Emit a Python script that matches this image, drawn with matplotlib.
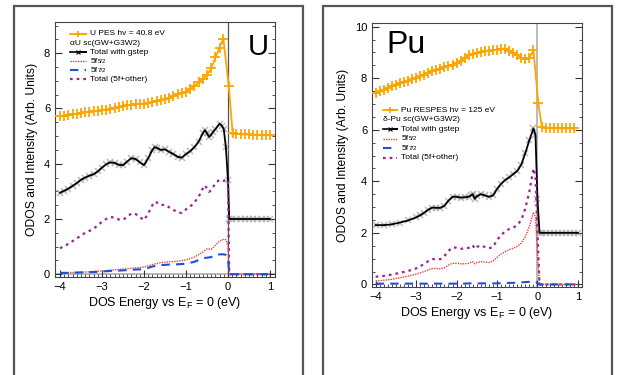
import matplotlib
matplotlib.use("Agg")
import matplotlib.pyplot as plt
from matplotlib.lines import Line2D
from matplotlib.patches import Rectangle

plt.rcParams['font.family'] = ['Liberation Sans', 'DejaVu Sans']
plt.rcParams['mathtext.fontset'] = 'custom'
plt.rcParams['mathtext.rm'] = 'Liberation Sans'

# ---------------- U panel data ----------------
u_pes_e = [-4.0, -3.9, -3.8, -3.7, -3.6, -3.5, -3.4, -3.3, -3.2, -3.1, -3.0, -2.9, -2.8, -2.7,
           -2.6, -2.5, -2.4, -2.3, -2.2, -2.1, -2.0, -1.9, -1.8, -1.7, -1.6, -1.5, -1.4, -1.3,
           -1.2, -1.1, -1.0, -0.9, -0.8, -0.7, -0.6, -0.5, -0.4, -0.3, -0.2, -0.11, 0.02, 0.11,
           0.2, 0.3, 0.4, 0.5, 0.6, 0.7, 0.8, 0.9, 1.0]
u_pes = [5.72, 5.74, 5.76, 5.79, 5.81, 5.84, 5.86, 5.88, 5.90, 5.92, 5.94, 5.96, 5.99, 6.02,
         6.05, 6.08, 6.11, 6.14, 6.16, 6.17, 6.18, 6.20, 6.23, 6.27, 6.30, 6.34, 6.39, 6.45,
         6.51, 6.56, 6.60, 6.70, 6.80, 6.95, 7.08, 7.22, 7.45, 7.85, 8.20, 8.53, 6.80, 5.12,
         5.08, 5.07, 5.06, 5.06, 5.05, 5.05, 5.05, 5.05, 5.05]

u_tot_e = [-4.0, -3.9, -3.8, -3.7, -3.6, -3.5, -3.4, -3.3, -3.2, -3.1, -3.0, -2.9, -2.8, -2.7,
           -2.6, -2.5, -2.4, -2.3, -2.2, -2.1, -2.0, -1.9, -1.8, -1.75, -1.7, -1.6, -1.5, -1.4,
           -1.3, -1.2, -1.1, -1.0, -0.9, -0.8, -0.7, -0.6, -0.55, -0.5, -0.45, -0.4, -0.35, -0.3,
           -0.2, -0.15, -0.1, -0.05, 0.0, 0.03, 0.1, 0.2, 0.3, 0.4, 0.5, 0.6, 0.7, 0.8, 0.9, 1.0]
u_total_gstep = [2.95, 3.02, 3.10, 3.20, 3.30, 3.42, 3.50, 3.57, 3.62, 3.72, 3.86, 3.98, 4.05, 4.03,
                 3.96, 3.95, 4.08, 4.20, 4.17, 4.05, 3.95, 4.20, 4.50, 4.60, 4.58, 4.50, 4.52, 4.43,
                 4.35, 4.25, 4.22, 4.35, 4.45, 4.60, 4.80, 5.10, 5.22, 5.10, 4.97, 5.05, 5.16, 5.25,
                 5.45, 5.38, 5.25, 4.60, 3.40, 2.00, 2.00, 2.00, 2.00, 2.00, 2.00, 2.00, 2.00, 2.00,
                 2.00, 2.00]
u_total_5f = [0.94, 1.02, 1.10, 1.20, 1.30, 1.40, 1.50, 1.57, 1.65, 1.77, 1.90, 2.00, 2.07, 2.05,
              1.98, 1.97, 2.08, 2.20, 2.18, 2.07, 1.96, 2.20, 2.50, 2.62, 2.60, 2.50, 2.52, 2.42,
              2.33, 2.24, 2.22, 2.35, 2.45, 2.60, 2.80, 3.10, 3.22, 3.10, 2.98, 3.05, 3.16, 3.30,
              3.42, 3.40, 3.38, 3.42, 3.40, 0.00, 0.00, 0.00, 0.00, 0.00, 0.00, 0.00, 0.00, 0.00,
              0.00, 0.00]

u_f_e = [-4.0, -3.8, -3.6, -3.4, -3.2, -3.0, -2.8, -2.6, -2.4, -2.2, -2.0, -1.8, -1.6, -1.4,
         -1.2, -1.0, -0.8, -0.6, -0.5, -0.4, -0.3, -0.2, -0.1, -0.05, 0.0, 0.03, 0.2, 0.4, 0.6,
         0.8, 1.0]
u_5f52 = [0.05, 0.06, 0.07, 0.08, 0.10, 0.12, 0.15, 0.17, 0.20, 0.23, 0.26, 0.35, 0.42, 0.45,
          0.47, 0.52, 0.62, 0.80, 0.92, 0.90, 1.05, 1.20, 1.27, 1.25, 1.00, 0.00, 0.00, 0.00, 0.00,
          0.00, 0.00]
u_5f72 = [0.05, 0.05, 0.06, 0.07, 0.08, 0.10, 0.12, 0.13, 0.15, 0.17, 0.18, 0.28, 0.33, 0.35,
          0.36, 0.38, 0.45, 0.58, 0.60, 0.62, 0.70, 0.72, 0.72, 0.70, 0.60, 0.00, 0.00, 0.00, 0.00,
          0.00, 0.00]

# ---------------- Pu panel data ----------------
pu_pes_e = [-4.0, -3.9, -3.8, -3.7, -3.6, -3.5, -3.4, -3.3, -3.2, -3.1, -3.0, -2.9, -2.8, -2.7,
            -2.6, -2.5, -2.4, -2.3, -2.2, -2.1, -2.0, -1.9, -1.8, -1.7, -1.6, -1.5, -1.4, -1.3,
            -1.2, -1.1, -1.0, -0.9, -0.8, -0.7, -0.6, -0.5, -0.4, -0.3, -0.2, -0.1, 0.02, 0.11,
            0.2, 0.3, 0.4, 0.5, 0.6, 0.7, 0.8, 0.9]
pu_pes = [7.44, 7.50, 7.56, 7.62, 7.68, 7.74, 7.80, 7.85, 7.90, 7.95, 8.00, 8.07, 8.13, 8.20,
          8.26, 8.32, 8.37, 8.42, 8.48, 8.53, 8.58, 8.68, 8.78, 8.88, 8.95, 8.99, 9.03, 9.06,
          9.07, 9.08, 9.09, 9.15, 9.12, 9.05, 8.98, 8.90, 8.80, 8.73, 8.78, 9.10, 7.02, 6.10,
          6.08, 6.07, 6.06, 6.06, 6.05, 6.05, 6.05, 6.05]

pu_e = [-4.0, -3.8, -3.6, -3.4, -3.2, -3.0, -2.9, -2.8, -2.7, -2.6, -2.5, -2.4, -2.3, -2.2,
        -2.1, -2.0, -1.9, -1.8, -1.7, -1.65, -1.6, -1.55, -1.5, -1.4, -1.3, -1.2, -1.1, -1.0,
        -0.9, -0.8, -0.7, -0.6, -0.5, -0.4, -0.3, -0.2, -0.1, -0.05, 0.0, 0.05, 0.1, 0.2, 0.3,
        0.4, 0.5, 0.6, 0.7, 0.8, 0.9, 1.0]
pu_total_gstep = [2.30, 2.30, 2.33, 2.40, 2.48, 2.60, 2.68, 2.78, 2.90, 2.98, 2.97, 2.97, 3.05, 3.25,
                  3.40, 3.40, 3.37, 3.38, 3.40, 3.45, 3.50, 3.32, 3.42, 3.50, 3.45, 3.40, 3.45, 3.70,
                  3.90, 4.05, 4.15, 4.28, 4.40, 4.65, 5.10, 5.60, 6.05, 5.80, 3.30, 2.00, 2.00, 2.00,
                  2.00, 2.00, 2.00, 2.00, 2.00, 2.00, 2.00, 2.00]
pu_total_5f = [0.30, 0.33, 0.38, 0.45, 0.52, 0.62, 0.70, 0.80, 0.90, 0.98, 0.98, 0.98, 1.10, 1.30,
               1.44, 1.42, 1.38, 1.40, 1.42, 1.45, 1.52, 1.38, 1.45, 1.52, 1.45, 1.40, 1.45, 1.72,
               1.92, 2.05, 2.15, 2.20, 2.30, 2.50, 2.95, 3.60, 4.50, 4.20, 2.00, 0.00, 0.00, 0.00,
               0.00, 0.00, 0.00, 0.00, 0.00, 0.00, 0.00, 0.00]
pu_5f52 = [0.13, 0.16, 0.20, 0.26, 0.32, 0.40, 0.45, 0.50, 0.56, 0.62, 0.62, 0.60, 0.65, 0.75,
           0.82, 0.82, 0.80, 0.80, 0.82, 0.85, 0.88, 0.80, 0.85, 0.88, 0.87, 0.85, 0.90, 1.05,
           1.18, 1.27, 1.35, 1.40, 1.48, 1.60, 1.85, 2.25, 2.80, 2.60, 1.20, 0.00, 0.00, 0.00,
           0.00, 0.00, 0.00, 0.00, 0.00, 0.00, 0.00, 0.00]
pu_5f72 = [0.03, 0.03, 0.03, 0.03, 0.03, 0.03, 0.03, 0.03, 0.03, 0.03, 0.03, 0.03, 0.03, 0.03,
           0.03, 0.03, 0.03, 0.03, 0.04, 0.04, 0.04, 0.04, 0.04, 0.04, 0.04, 0.04, 0.04, 0.04,
           0.05, 0.05, 0.06, 0.06, 0.07, 0.08, 0.09, 0.10, 0.12, 0.10, 0.05, 0.00, 0.00, 0.00,
           0.00, 0.00, 0.00, 0.00, 0.00, 0.00, 0.00, 0.00]

xticks = [-4, -3, -2, -1, 0, 1]
u_yticks = [0, 2, 4, 6, 8]
pu_yticks = [0, 2, 4, 6, 8, 10]

ORANGE = '#FFA500'
RED = '#E8433A'
BLUE = '#1F4FD8'
PURPLE = '#9B2393'

# (main text, small trailing subscript text)
u_labels = [("U PES hv = 40.8 eV", ""), ("αU sc(GW+G3W2)", ""), ("Total with gstep", ""),
            ("5f", "5/2"), ("5f", "7/2"), ("Total (5f+other)", "")]
pu_labels = [("Pu RESPES hv = 125 eV", ""), ("δ-Pu sc(GW+G3W2)", ""), ("Total with gstep", ""),
             ("5f", "5/2"), ("5f", "7/2"), ("Total (5f+other)", "")]

fig = plt.figure(figsize=(6.17, 3.75), dpi=100)

# slide-like panel borders
for x0 in (14 / 617, 323 / 617):
    fig.patches.append(Rectangle((x0, -0.1), 289 / 617, 1.1 - 6 / 375,
                                 transform=fig.transFigure, fill=False,
                                 edgecolor='#555555', linewidth=1.6))

axU = fig.add_axes([55 / 617, 1 - 277 / 375, 220 / 617, 255 / 375])
axP = fig.add_axes([372 / 617, 1 - 287 / 375, 210 / 617, 264 / 375])


def style(ax, ylim, yticks, xlim, vline_color, vline_w):
    ax.set_xlim(*xlim)
    ax.set_ylim(*ylim)
    ax.set_xticks(xticks)
    ax.set_yticks(yticks)
    ax.set_xticks([t / 10 for t in range(-40, 11)], minor=True)
    ax.set_yticks([t / 2 for t in range(0, 2 * int(ylim[1]) + 1)], minor=True)
    ax.tick_params(which='both', direction='in', top=False, right=True,
                   labelsize=8, color='#333333')
    ax.tick_params(which='major', length=5)
    ax.tick_params(which='minor', length=2.5)
    for s in ax.spines.values():
        s.set_color('#444444')
        s.set_linewidth(0.8)
    ax.axvline(0, color=vline_color, lw=vline_w, zorder=1)
    ax.set_xlabel("DOS Energy vs E$_\\mathrm{F}$ = 0 (eV)", fontsize=9, labelpad=2)
    ax.set_ylabel("ODOS and Intensity (Arb. Units)", fontsize=8.7, labelpad=4)


def draw(ax, pes_e, pes, tot_e, tot, tot5f, f_e, f52, f72):
    ax.plot(pes_e, pes, color=ORANGE, lw=1.3, marker='+', ms=7, mew=1.3, zorder=5)
    ax.plot(tot_e, tot, color='#AAAAAA', lw=0, marker='x', ms=4.5, mew=1.1, zorder=3, alpha=0.8)
    ax.plot(tot_e, tot, color='black', lw=1.3, zorder=4)
    ax.plot(tot_e, tot5f, color=PURPLE, lw=1.6, ls=(0, (1.2, 1.8)), zorder=4)
    ax.plot(f_e, f52, color=RED, lw=1.0, ls=(0, (1, 0.8)), zorder=4)
    ax.plot(f_e, f72, color=BLUE, lw=1.5, ls=(0, (4, 3)), zorder=4)


def legend(ax, labels, x0, y0, dy, hl):
    styles = [dict(color=ORANGE, lw=1.3, marker='+', ms=5, mew=1.2),
              None,
              dict(color='black', lw=1.2, marker='x', ms=3.5, mew=0.8),
              dict(color=RED, lw=1.0, ls=(0, (1, 0.8))),
              dict(color=BLUE, lw=1.5, ls=(0, (4, 3))),
              dict(color=PURPLE, lw=1.6, ls=(0, (1.2, 1.8)))]
    for i, ((lab, sub), st) in enumerate(zip(labels, styles)):
        y = y0 - i * dy
        if st is None:
            ax.text(x0, y, lab, transform=ax.transAxes, fontsize=6, va='center', ha='left')
            continue
        xs = [x0, x0 + hl]
        if st.get('marker'):
            ln = Line2D(xs + [x0 + hl / 2], [y, y, y], transform=ax.transAxes,
                        markevery=[2], **st)
        else:
            ln = Line2D(xs, [y, y], transform=ax.transAxes, **st)
        ax.add_line(ln)
        t = ax.text(x0 + hl + 0.02, y, lab, transform=ax.transAxes, fontsize=6,
                    va='center', ha='left')
        if sub:
            ax.annotate(sub, xy=(1.0, 0.12), xycoords=t, fontsize=4.3,
                        va='bottom', ha='left')


draw(axU, u_pes_e, u_pes, u_tot_e, u_total_gstep, u_total_5f, u_f_e, u_5f52, u_5f72)
axU.axhline(0, color='#BBBBBB', lw=1.5, zorder=1)
style(axU, (-0.1, 9.13), u_yticks, (-4.12, 1.12), '#555555', 0.9)
legend(axU, u_labels, 0.07, 0.953, 0.0355, 0.07)
axU.text(0.97, 0.955, "U", transform=axU.transAxes, fontsize=21, ha='right', va='top')

draw(axP, pu_pes_e, pu_pes, pu_e, pu_total_gstep, pu_total_5f, pu_e, pu_5f52, pu_5f72)
style(axP, (-0.1, 10.14), pu_yticks, (-4.09, 1.1), '#BBBBBB', 1.4)
legend(axP, pu_labels, 0.05, 0.67, 0.036, 0.07)
axP.text(0.07, 0.975, "Pu", transform=axP.transAxes, fontsize=23, ha='left', va='top')

fig.savefig("out.png", dpi=100)
